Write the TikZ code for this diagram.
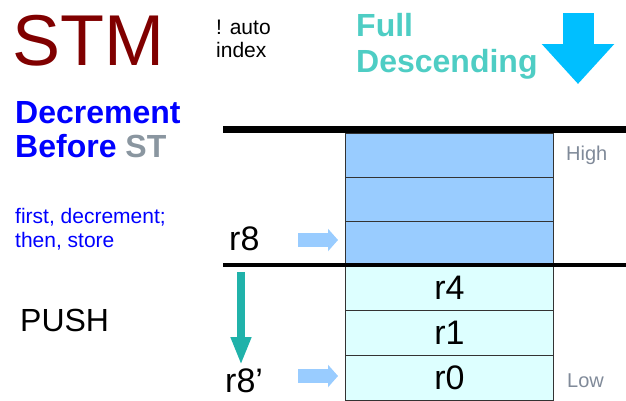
\documentclass[tikz,border=0pt]{standalone}
\usepackage{fontspec}
\setmainfont{Liberation Sans}
\usetikzlibrary{arrows.meta, positioning, calc}
\definecolor{stmred}{RGB}{128, 0, 0}
\definecolor{purblue}{RGB}{0, 0, 255}
\definecolor{stgrey}{RGB}{138, 150, 160}
\definecolor{fullteal}{RGB}{78, 205, 196}
\definecolor{bigcyan}{RGB}{0, 191, 255}
\definecolor{usedcell}{RGB}{153, 204, 255}
\definecolor{pushcell}{RGB}{221, 255, 255}
\definecolor{hilo}{RGB}{128, 138, 153}
\definecolor{movearrow}{RGB}{32, 178, 170}
\definecolor{cellline}{RGB}{51, 51, 51}

\tikzset{
    lbl/.style={inner sep=0pt, anchor=base west},
    cellhi/.style={draw=cellline, line width=1pt, fill=usedcell, anchor=north west,
        minimum width=208pt, minimum height=44pt, inner sep=0pt},
    celllo/.style={cellhi, fill=pushcell, minimum height=45pt,
        font=\fontsize{34}{34}\selectfont},
    ptr/.style={line width=14pt, usedcell, -{Triangle[width=22pt, length=10pt]}}
}

\begin{document}
\begin{tikzpicture}[x=1pt, y=-1pt]
    \useasboundingbox (0,0) rectangle (626,400);

    % Titles
    \node[lbl, stmred, font=\fontsize{72}{72}\selectfont] (stm) at (12,65) {STM};
    \node[lbl, font=\fontsize{21}{21}\selectfont] (auto) at (216,34) {! auto};
    \node[lbl, font=\fontsize{21}{21}\selectfont] (index) at (216,57) {index};
    \node[lbl, fullteal, font=\fontsize{32}{32}\selectfont\bfseries] (full) at (356,36) {Full};
    \node[lbl, fullteal, font=\fontsize{32}{32}\selectfont\bfseries] (desc) at (356,72) {Descending};

    % Big direction arrow
    \coordinate (bigtop) at (578,13);
    \coordinate (bigtip) at (578,84);
    \draw[line width=31pt, bigcyan, -{Triangle[width=70pt, length=40pt]}] (bigtop) -- (bigtip);

    % Left side texts
    \node[lbl, purblue, font=\fontsize{32}{32}\selectfont\bfseries] (decr) at (15,123) {Decrement};
    \node[lbl, purblue, font=\fontsize{32}{32}\selectfont\bfseries] (before) at (15,157)
        {Before \textcolor{stgrey}{ST}};
    \node[lbl, purblue, font=\fontsize{21}{21}\selectfont] (first) at (15,223) {first, decrement;};
    \node[lbl, purblue, font=\fontsize{21}{21}\selectfont] (then) at (15,247) {then, store};
    \node[lbl, font=\fontsize{32}{32}\selectfont] (push) at (20,331) {PUSH};

    % Stack cells
    \foreach \i/\top in {1/133, 2/177, 3/221}
        \node[cellhi] (c\i) at (345,\top) {};
    \node[celllo] (c4) at (345,265) {r4};
    \node[celllo] (c5) at (345,310) {r1};
    \node[celllo] (c6) at (345,355) {r0};

    % Boundary lines
    \draw[line width=7pt] (223,129) -- (626,129);
    \draw[line width=4pt] (223,265) -- (626,265);

    % High / Low
    \node[lbl, hilo, font=\fontsize{20}{20}\selectfont] (high) at (566,160) {High};
    \node[lbl, hilo, font=\fontsize{20}{20}\selectfont] (low) at (567,387) {Low};

    % Pointers
    \node[lbl, font=\fontsize{34}{34}\selectfont] (r8) at (229,250) {r8};
    \node[lbl, font=\fontsize{34}{34}\selectfont] (r8new) at (225,392) {r8’};
    \coordinate (p8) at (298,240);
    \coordinate (p8new) at (298,376);
    \draw[ptr, shorten >=7pt] (p8) -- (p8 -| c3.west);
    \draw[ptr, shorten >=7pt] (p8new) -- (p8new -| c6.west);

    % Decrement arrow
    \coordinate (mvtop) at (241,272);
    \coordinate (mvend) at (241,365);
    \draw[line width=8pt, movearrow, -{Triangle[width=19pt, length=28pt]}] (mvtop) -- (mvend);
\end{tikzpicture}
\end{document}
